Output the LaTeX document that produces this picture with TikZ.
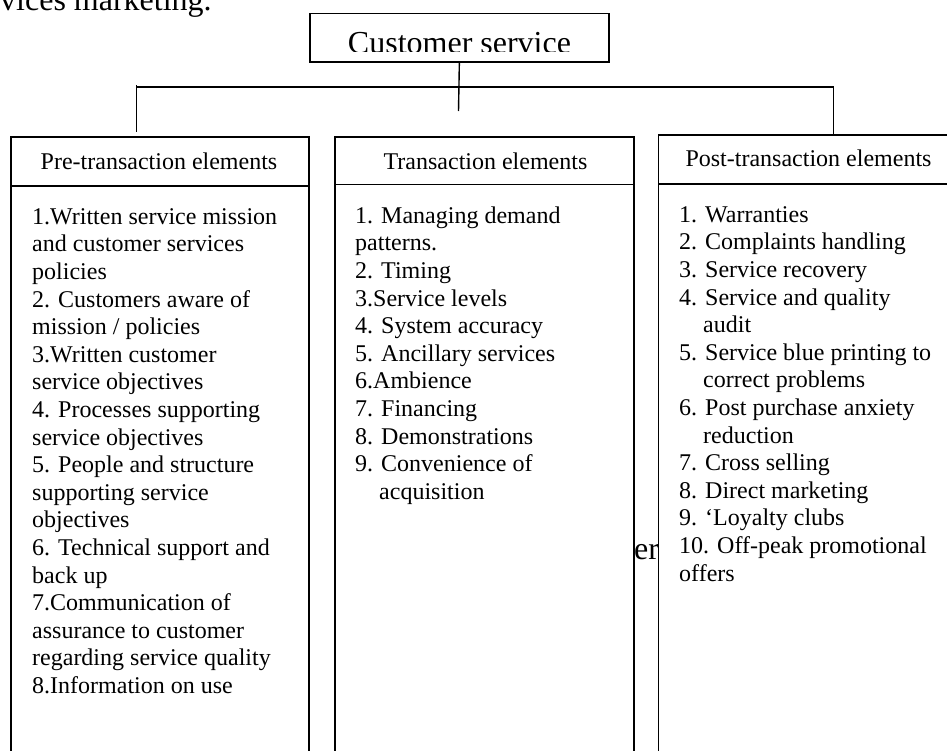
\documentclass[tikz,border=0pt]{standalone}
\usepackage{fontspec}
\setmainfont{Liberation Serif}
\begin{document}
\begin{tikzpicture}[x=1pt,y=-1pt,
  boxstyle/.style={draw=black, line width=1.7pt, fill=white, inner sep=0pt, anchor=north west},
  conn/.style={line width=1.4pt},
  bus/.style={line width=2.6pt},
  bodytext/.style={font=\fontsize{24}{27.6}\selectfont, align=left, inner sep=0pt, anchor=north west},
  headtext/.style={font=\fontsize{24}{27.6}\selectfont, inner sep=0pt, anchor=base},
  bigtext/.style={font=\fontsize{32}{36.8}\selectfont, inner sep=0pt}
]
\useasboundingbox (0,0) rectangle (947,750);
\clip (0,0) rectangle (947,750);

% stray page texts
\node[bigtext, anchor=base west] (pagetop) at (0,10) {vices marketing.};
\node[bigtext, anchor=base west] (pagemid) at (634,559) {er};

% top box
\node[boxstyle, minimum width=299pt, minimum height=48.3pt] (cs) at (309,12.7) {};
\begin{scope}
  \clip (309,12) rectangle (608,51.3);
  \node[bigtext, anchor=base] (cst) at (459.5,53.2) {Customer service};
\end{scope}

% columns: bodies then headers
\node[boxstyle, minimum width=298pt, minimum height=575pt] (preB) at (10,185) {};
\node[boxstyle, minimum width=298pt, minimum height=49pt] (preH) at (10,136) {};
\node[boxstyle, minimum width=299pt, minimum height=577pt] (trB) at (334,183.5) {};
\node[boxstyle, minimum width=299pt, minimum height=47.5pt] (trH) at (334,136) {};
\node[boxstyle, minimum width=303pt, minimum height=577pt] (postB) at (657.5,183) {};
\node[boxstyle, minimum width=303pt, minimum height=49pt] (postH) at (657.5,134) {};

% header texts
\node[headtext] (preHT) at (159,169) {Pre-transaction elements};
\node[headtext] (trHT) at (485.5,169) {Transaction elements};
\node[headtext] (postHT) at (808.5,166.7) {Post-transaction elements};

% lists
\node[bodytext] (preL) at (32,204.7) {\strut 1.Written service mission\\
and customer services\\
policies\\
2. Customers aware of\\
mission / policies\\
3.Written customer\\
service objectives\\
4. Processes supporting\\
service objectives\\
5. People and structure\\
supporting service\\
objectives\\
6. Technical support and\\
back up\\
7.Communication of\\
assurance to customer\\
regarding service quality\\
8.Information on use};

\node[bodytext] (trL) at (355,203.7) {\strut 1. Managing demand\\
patterns.\\
2. Timing\\
3.Service levels\\
4. System accuracy\\
5. Ancillary services\\
6.Ambience\\
7. Financing\\
8. Demonstrations\\
9. Convenience of\\
\hspace*{24pt}acquisition};

\node[bodytext] (postL) at (679,202.7) {\strut 1. Warranties\\
2. Complaints handling\\
3. Service recovery\\
4. Service and quality\\
\hspace*{24pt}audit\\
5. Service blue printing to\\
\hspace*{24pt}correct problems\\
6. Post purchase anxiety\\
\hspace*{24pt}reduction\\
7. Cross selling\\
8. Direct marketing\\
9. ‘Loyalty clubs\\
10. Off-peak promotional\\
offers};

% connectors
\coordinate (stub) at (458.5,111);
\coordinate (busL) at (136.5,87);
\coordinate (busR) at (833.5,87);
\coordinate (busLtop) at (136.5,85);
\coordinate (preTop) at (136.5,132);
\draw[conn] (cs.south) -- (stub);
\draw[bus] (busL) -- (busR);
\draw[conn] (busLtop) -- (preTop);
\draw[conn] (busR) -- (busR |- postH.north);
\end{tikzpicture}
\end{document}
